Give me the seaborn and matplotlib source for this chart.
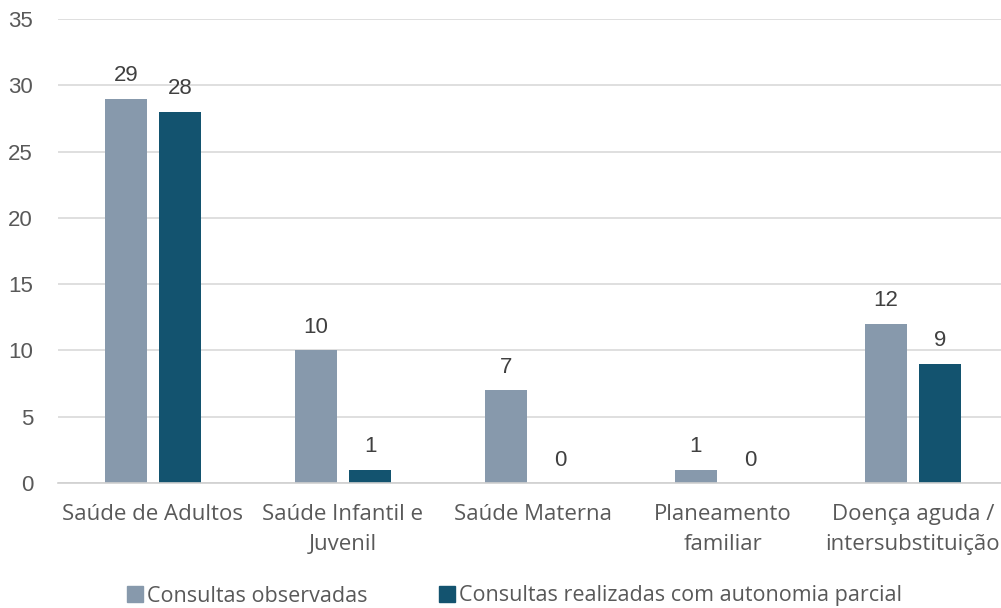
import matplotlib
matplotlib.use("Agg")
import matplotlib.pyplot as plt
import seaborn as sns
import pandas as pd
from matplotlib.lines import Line2D

categories = ["Saúde de Adultos", "Saúde Infantil e\nJuvenil", "Saúde Materna",
              "Planeamento\nfamiliar", "Doença aguda /\nintersubstituição"]
series_names = ["Consultas observadas", "Consultas realizadas com autonomia parcial"]
observadas = [29, 10, 7, 1, 12]
autonomia = [28, 1, 0, 0, 9]
colors = ["#8799AC", "#13536F"]

df = pd.DataFrame({
    "cat": categories * 2,
    "serie": [series_names[0]] * len(categories) + [series_names[1]] * len(categories),
    "val": observadas + autonomia,
})

sns.set_style("white")
text_col = "#595959"

fig = plt.figure(figsize=(10.01, 6.08), dpi=100)
ax = fig.add_axes([58 / 1001, (608 - 483) / 608, 950 / 1001, (483 - 19) / 608])

sns.barplot(data=df, x="cat", y="val", hue="serie", order=categories,
            hue_order=series_names, palette=colors, width=0.57, gap=0.22,
            saturation=1, ax=ax, legend=False, errorbar=None, linewidth=0)

for cont in ax.containers:
    ax.bar_label(cont, padding=9, fontsize=16, color="#404040",
                 family=["Liberation Sans"])

ax.set_ylim(0, 35)
ax.set_xlim(-0.5, len(categories) - 0.5)
ax.set_yticks(range(0, 36, 5))
ax.yaxis.grid(True, color="#D9D9D9", linewidth=1.2)
ax.set_axisbelow(True)
for s in ["top", "right", "left"]:
    ax.spines[s].set_visible(False)
ax.spines["bottom"].set_color("#D0D0D0")
ax.spines["bottom"].set_linewidth(1.2)
ax.set_xlabel("")
ax.set_ylabel("")

ax.tick_params(axis="y", length=0, pad=18, labelsize=16, labelcolor=text_col)
for lab in ax.get_yticklabels():
    lab.set_family(["Liberation Sans"])
ax.tick_params(axis="x", which="major", length=0, pad=15, labelsize=16, labelcolor=text_col)
ax.set_xticks(range(len(categories)))
ax.set_xticklabels(categories, family=["Open Sans"], linespacing=1.55)
ax.set_xticks([i - 0.5 for i in range(len(categories) + 1)], minor=True)
ax.tick_params(axis="x", which="minor", length=7, color="#D0D0D0", width=1.2)

handles = [Line2D([0], [0], marker="s", linestyle="", markersize=12,
                  markerfacecolor=c, markeredgecolor=c) for c in colors]
leg = fig.legend(handles, series_names, loc="center", bbox_to_anchor=(0.513, 12 / 608),
                 ncol=2, frameon=False, handletextpad=0.05, columnspacing=3.2,
                 prop={"family": ["Open Sans"], "size": 15.5}, handlelength=1.0)
for t in leg.get_texts():
    t.set_color(text_col)

fig.savefig("out.png", dpi=100)
